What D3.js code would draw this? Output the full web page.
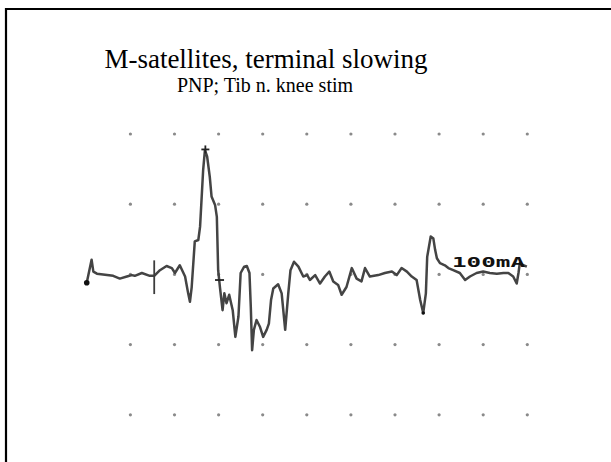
<!DOCTYPE html>
<meta charset="utf-8">
<head>
    <script src="https://d3js.org/d3.v7.min.js"></script>  <!-- D3 -->
    <style>
        body { margin: 0; background: #fff; }
        .title { font-family: "Liberation Serif", "Times New Roman", serif; fill: #000; }
        .gain { font-family: "DejaVu Sans Mono", monospace; font-weight: bold; fill: #111; }
    </style>
</head>
<body>
    <div id="graph"></div>
</body>

<script>
    // trace samples: time (div) and amplitude (div)
    var time = [0.01, 0.12, 0.16, 0.24, 0.61, 0.76, 0.92, 1.03, 1.10, 1.26, 1.44, 1.54, 1.67, 1.82, 1.94, 2.01,
        2.12, 2.24, 2.31, 2.35, 2.39, 2.46, 2.54, 2.58, 2.65, 2.69, 2.74, 2.80, 2.84, 2.92, 2.96, 2.99,
        3.03, 3.09, 3.13, 3.18, 3.24, 3.32, 3.38, 3.45, 3.50, 3.58, 3.64, 3.70, 3.73, 3.76, 3.80, 3.86,
        3.94, 4.01, 4.09, 4.14, 4.19, 4.24, 4.35, 4.43, 4.51, 4.58, 4.63, 4.71, 4.81, 4.92, 5.01, 5.07,
        5.19, 5.30, 5.41, 5.51, 5.60, 5.71, 5.79, 5.90, 6.02, 6.13, 6.24, 6.32, 6.43, 6.62, 6.77, 6.93,
        7.04, 7.15, 7.27, 7.38, 7.49, 7.57, 7.64, 7.70, 7.73, 7.81, 7.87, 7.91, 7.95, 8.02, 8.13, 8.21,
        8.32, 8.47, 8.59, 8.70, 8.85, 9.00, 9.15, 9.31, 9.46, 9.57, 9.68, 9.76, 9.80, 9.83, 9.91, 9.99];
    var amplitude = [-0.12, 0.21, 0.04, 0.01, -0.02, -0.06, -0.03, -0.01, -0.02, 0.02, -0.02, -0.02, 0.06, 0.12, 0.09, 0.02,
        0.13, -0.03, -0.27, -0.39, -0.18, 0.47, 0.49, 0.68, 1.49, 1.77, 1.68, 1.39, 1.11, 0.99, 0.82, 0.06,
        -0.18, -0.51, -0.27, -0.41, -0.29, -0.51, -0.89, -0.60, 0.02, 0.11, 0.12, 0.02, -0.46, -1.08, -0.79, -0.65,
        -0.75, -0.89, -0.79, -0.70, -0.36, -0.20, -0.14, -0.27, -0.79, -0.27, 0.06, 0.18, 0.11, -0.03, -0.01, -0.08,
        -0.01, -0.13, -0.03, 0.04, -0.10, -0.15, -0.29, -0.18, 0.09, -0.06, -0.10, 0.09, -0.03, -0.01, 0.02, 0.04,
        -0.01, 0.09, 0.04, -0.03, -0.08, -0.36, -0.55, -0.27, 0.25, 0.54, 0.51, 0.35, 0.23, 0.16, 0.13, 0.09,
        0.06, 0.02, -0.08, -0.03, 0.02, 0.04, 0.02, 0.01, 0.02, 0.02, -0.03, -0.13, 0.02, 0.16, 0.13, 0.11];

    // grid dots
    var gridCols = [1, 2, 3, 4, 5, 6, 7, 8, 9, 10];
    var gridRows = [2, 1, 0, -1, -2];

    // cursor markers on the trace
    var stimTime = 1.54;
    var peakTime = 2.70, peakAmp = 1.78;
    var onsetTime = 3.01, onsetAmp = -0.08;
    var dotTimes = [0.01, 7.64];
    var dotAmps = [-0.12, -0.55];

    var title = "M-satellites, terminal slowing";
    var subtitle = "PNP; Tib n. knee stim";
    var gainLabel = "100mA";

    var W = 611, H = 462;

    var svg = d3.select("#graph")
      .append("svg")
        .attr("width", W)
        .attr("height", H);

    // slide frame
    svg.append("path")
        .attr("d", "M6," + (H + 5) + "V9H" + (W + 5))
        .attr("fill", "none")
        .attr("stroke", "#000")
        .attr("stroke-width", 2.2);

    // titles
    svg.append("text")
        .attr("class", "title")
        .attr("x", 266)
        .attr("y", 68)
        .attr("text-anchor", "middle")
        .style("font-size", "27px")
        .text(title);
    svg.append("text")
        .attr("class", "title")
        .attr("x", 265)
        .attr("y", 92)
        .attr("text-anchor", "middle")
        .style("font-size", "20px")
        .text(subtitle);

    // scales
    var x = d3.scaleLinear().domain([0, 10]).range([86.3, 527.3]);
    var y = d3.scaleLinear().domain([-2, 2]).range([414.8, 134]);

    // grid
    gridRows.forEach(function(r) {
        svg.append("g")
            .selectAll("circle")
            .data(gridCols)
            .enter()
            .append("circle")
            .attr("cx", function(c) { return x(c); })
            .attr("cy", y(r))
            .attr("r", 1.6)
            .attr("fill", "#8a8a8a");
    });

    // trace
    var pts = time.map(function(t, i) { return [t, amplitude[i]]; });
    var line = d3.line()
        .x(function(d) { return x(d[0]); })
        .y(function(d) { return y(d[1]); });
    svg.append("path")
        .datum(pts)
        .attr("d", line)
        .attr("fill", "none")
        .attr("stroke", "#444")
        .attr("stroke-width", 2.5)
        .attr("stroke-linejoin", "round");

    // stimulus tick
    svg.append("line")
        .attr("x1", x(stimTime)).attr("x2", x(stimTime))
        .attr("y1", y(0.2)).attr("y2", y(-0.28))
        .attr("stroke", "#3c3c3c").attr("stroke-width", 1.8);

    // peak cross
    svg.append("line")
        .attr("x1", x(peakTime) - 4).attr("x2", x(peakTime) + 4)
        .attr("y1", y(peakAmp)).attr("y2", y(peakAmp))
        .attr("stroke", "#222").attr("stroke-width", 1.8);
    svg.append("line")
        .attr("x1", x(peakTime)).attr("x2", x(peakTime))
        .attr("y1", y(peakAmp) - 4).attr("y2", y(peakAmp) + 4)
        .attr("stroke", "#222").attr("stroke-width", 1.8);

    // onset dash
    svg.append("line")
        .attr("x1", x(onsetTime) - 4).attr("x2", x(onsetTime) + 5)
        .attr("y1", y(onsetAmp)).attr("y2", y(onsetAmp))
        .attr("stroke", "#222").attr("stroke-width", 1.8);

    // dots
    svg.selectAll(".mark")
        .data(dotTimes)
        .enter()
        .append("circle")
        .attr("class", "mark")
        .attr("cx", function(d) { return x(d); })
        .attr("cy", function(d, i) { return y(dotAmps[i]); })
        .attr("r", function(d, i) { return i == 0 ? 2.8 : 1.8; })
        .attr("fill", "#111");

    // gain label
    svg.append("text")
        .attr("class", "gain")
        .attr("x", 452)
        .attr("y", 267)
        .attr("textLength", 73)
        .attr("lengthAdjust", "spacingAndGlyphs")
        .style("font-size", "14px")
        .text(gainLabel);
</script>
